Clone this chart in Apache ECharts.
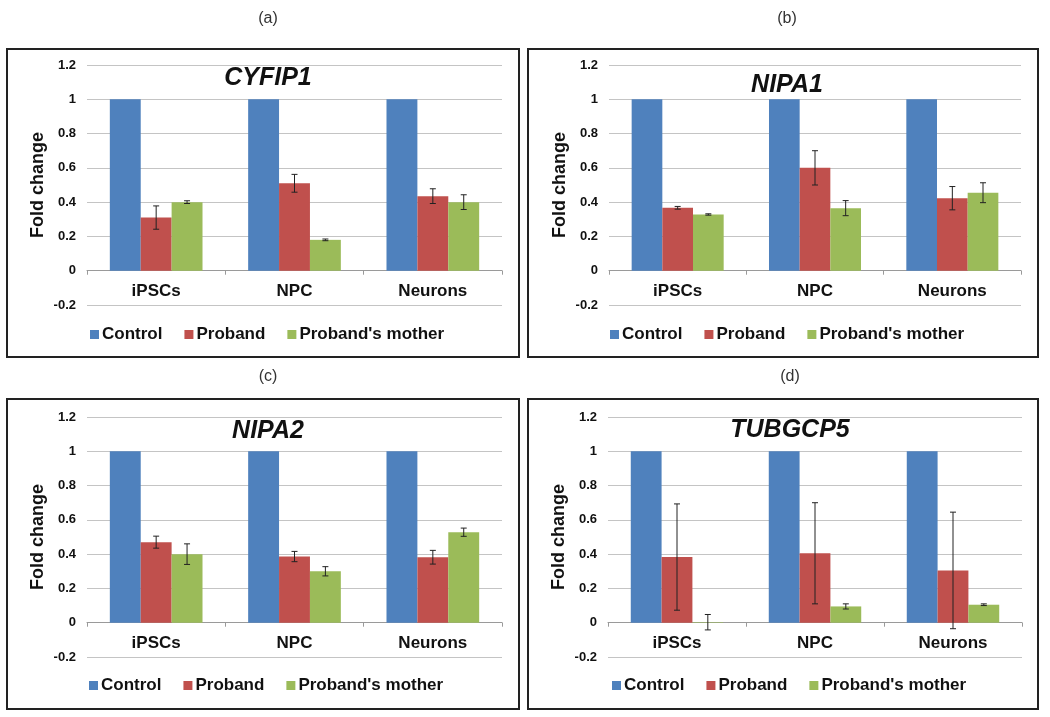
<!DOCTYPE html>
<html>
<head>
<meta charset="utf-8">
<script src="https://cdn.jsdelivr.net/npm/echarts@6/dist/echarts.min.js"></script>
<style>
  html, body { margin: 0; padding: 0; background: #fff; }
  #main { width: 1050px; height: 717px; }
</style>
</head>
<body>
<div id="main"></div>
<script>
// data
var categories = ['iPSCs', 'NPC', 'Neurons'];
var seriesNames = ['Control', 'Proband', "Proband's mother"];
var yTicks = [-0.2, 0, 0.2, 0.4, 0.6, 0.8, 1, 1.2];

var cyfip1Control = [1, 1, 1];
var cyfip1Proband = [0.31, 0.51, 0.435];
var cyfip1ProbandErr = [0.068, 0.052, 0.043];
var cyfip1Mother = [0.40, 0.18, 0.40];
var cyfip1MotherErr = [0.008, 0.005, 0.043];

var nipa1Control = [1, 1, 1];
var nipa1Proband = [0.367, 0.60, 0.423];
var nipa1ProbandErr = [0.008, 0.10, 0.068];
var nipa1Mother = [0.328, 0.365, 0.455];
var nipa1MotherErr = [0.004, 0.044, 0.058];

var nipa2Control = [1, 1, 1];
var nipa2Proband = [0.47, 0.386, 0.382];
var nipa2ProbandErr = [0.035, 0.03, 0.04];
var nipa2Mother = [0.40, 0.30, 0.528];
var nipa2MotherErr = [0.06, 0.027, 0.024];

var tubgcp5Control = [1, 1, 1];
var tubgcp5Proband = [0.383, 0.405, 0.305];
var tubgcp5ProbandErr = [0.31, 0.295, 0.34];
var tubgcp5Mother = [0.003, 0.095, 0.105];
var tubgcp5MotherErr = [0.045, 0.015, 0.005];

var colors = ['#4F81BD', '#C0504D', '#9BBB59'];
var font = 'Liberation Sans, Arial, Helvetica, sans-serif';
var catGap = 0.33;

var panels = [
  { label: '(a)', gene: 'CYFIP1', ctrl: cyfip1Control, pro: cyfip1Proband, proErr: cyfip1ProbandErr, mom: cyfip1Mother, momErr: cyfip1MotherErr,
    box: [7, 49, 512, 308], grid: { left: 87, right: 548, top: 65, bottom: 412 }, labelPos: [263, 6], titlePos: [263, 61], legendPos: [90, 326] },
  { label: '(b)', gene: 'NIPA1', ctrl: nipa1Control, pro: nipa1Proband, proErr: nipa1ProbandErr, mom: nipa1Mother, momErr: nipa1MotherErr,
    box: [528, 49, 510, 308], grid: { left: 609, right: 29, top: 65, bottom: 412 }, labelPos: [782, 6], titlePos: [782, 68], legendPos: [610, 326] },
  { label: '(c)', gene: 'NIPA2', ctrl: nipa2Control, pro: nipa2Proband, proErr: nipa2ProbandErr, mom: nipa2Mother, momErr: nipa2MotherErr,
    box: [7, 399, 512, 310], grid: { left: 87, right: 548, top: 417, bottom: 60 }, labelPos: [263, 364], titlePos: [263, 414], legendPos: [89, 677] },
  { label: '(d)', gene: 'TUBGCP5', ctrl: tubgcp5Control, pro: tubgcp5Proband, proErr: tubgcp5ProbandErr, mom: tubgcp5Mother, momErr: tubgcp5MotherErr,
    box: [528, 399, 510, 310], grid: { left: 608, right: 28, top: 417, bottom: 60 }, labelPos: [785, 364], titlePos: [785, 413], legendPos: [612, 677] }
];

function errorBars(offsetIdx) {
  return function (params, api) {
    var x = api.value(0);
    var band = api.size([1, 0])[0];
    var bw = band * (1 - catGap) / 3;
    var lo = api.coord([x, api.value(1)]);
    var hi = api.coord([x, api.value(2)]);
    var cx = lo[0] + offsetIdx * bw;
    var cap = 3;
    var st = { stroke: '#222', lineWidth: 1 };
    return {
      type: 'group',
      children: [
        { type: 'line', shape: { x1: cx, y1: lo[1], x2: cx, y2: hi[1] }, style: st },
        { type: 'line', shape: { x1: cx - cap, y1: lo[1], x2: cx + cap, y2: lo[1] }, style: st },
        { type: 'line', shape: { x1: cx - cap, y1: hi[1], x2: cx + cap, y2: hi[1] }, style: st }
      ]
    };
  };
}

function errData(vals, errs) {
  return vals.map(function (v, i) { return [i, v - errs[i], v + errs[i]]; });
}

var option = {
  backgroundColor: '#fff',
  color: colors,
  animation: false,
  title: [],
  legend: [],
  grid: [],
  xAxis: [],
  yAxis: [],
  series: [],
  graphic: []
};

panels.forEach(function (p, k) {
  option.graphic.push({
    type: 'rect',
    shape: { x: p.box[0], y: p.box[1], width: p.box[2], height: p.box[3] },
    style: { fill: 'none', stroke: '#222', lineWidth: 2 },
    z: 10
  });
  option.title.push({
    text: p.label, left: p.labelPos[0], top: p.labelPos[1], textAlign: 'center',
    textStyle: { fontFamily: font, fontSize: 16, fontWeight: 'normal', color: '#333' }
  });
  option.title.push({
    text: p.gene, left: p.titlePos[0], top: p.titlePos[1], textAlign: 'center',
    textStyle: { fontFamily: font, fontSize: 25, fontWeight: 'bold', fontStyle: 'italic', color: '#111' }
  });
  option.legend.push({
    data: seriesNames, left: p.legendPos[0], top: p.legendPos[1], padding: 0,
    icon: 'rect', itemWidth: 9, itemHeight: 9, itemGap: 22,
    textStyle: { fontFamily: font, fontSize: 17, fontWeight: 'bold', color: '#111', padding: [0, 0, 0, -2] },
    selectedMode: false
  });
  option.grid.push({ left: p.grid.left, right: p.grid.right, top: p.grid.top, bottom: p.grid.bottom, containLabel: false });
  option.xAxis.push({
    type: 'category', gridIndex: k, data: categories,
    axisLine: { onZero: true, lineStyle: { color: '#9a9a9a', width: 1 } },
    axisTick: { show: true, length: 4, lineStyle: { color: '#9a9a9a' } },
    // labels sit just under the zero line, inside the plot
    axisLabel: { fontFamily: font, fontSize: 17, fontWeight: 'bold', color: '#111', margin: -22 },
    splitLine: { show: false }
  });
  option.yAxis.push({
    type: 'value', gridIndex: k, min: yTicks[0], max: yTicks[yTicks.length - 1], interval: 0.2,
    axisLine: { show: false }, axisTick: { show: false },
    axisLabel: {
      fontFamily: font, fontSize: 13, fontWeight: 'bold', color: '#111', margin: 11,
      formatter: function (v) { return String(+v.toFixed(1)); }
    },
    splitLine: { show: true, lineStyle: { color: '#c4c4c4', width: 1 } },
    name: 'Fold change', nameLocation: 'middle', nameGap: 40,
    nameTextStyle: { fontFamily: font, fontSize: 18, fontWeight: 'bold', color: '#111' }
  });
  var vals = [p.ctrl, p.pro, p.mom];
  vals.forEach(function (v, i) {
    option.series.push({
      type: 'bar', name: seriesNames[i], xAxisIndex: k, yAxisIndex: k, data: v,
      barGap: 0, barCategoryGap: (catGap * 100) + '%',
      itemStyle: { color: colors[i] }
    });
  });
  option.series.push({
    type: 'custom', name: 'probandErr', xAxisIndex: k, yAxisIndex: k, z: 5,
    renderItem: errorBars(0), encode: { x: 0, y: [1, 2] }, data: errData(p.pro, p.proErr)
  });
  option.series.push({
    type: 'custom', name: 'motherErr', xAxisIndex: k, yAxisIndex: k, z: 5,
    renderItem: errorBars(1), encode: { x: 0, y: [1, 2] }, data: errData(p.mom, p.momErr)
  });
});

var chart = echarts.init(document.getElementById('main'));
chart.setOption(option);
</script>
</body>
</html>
